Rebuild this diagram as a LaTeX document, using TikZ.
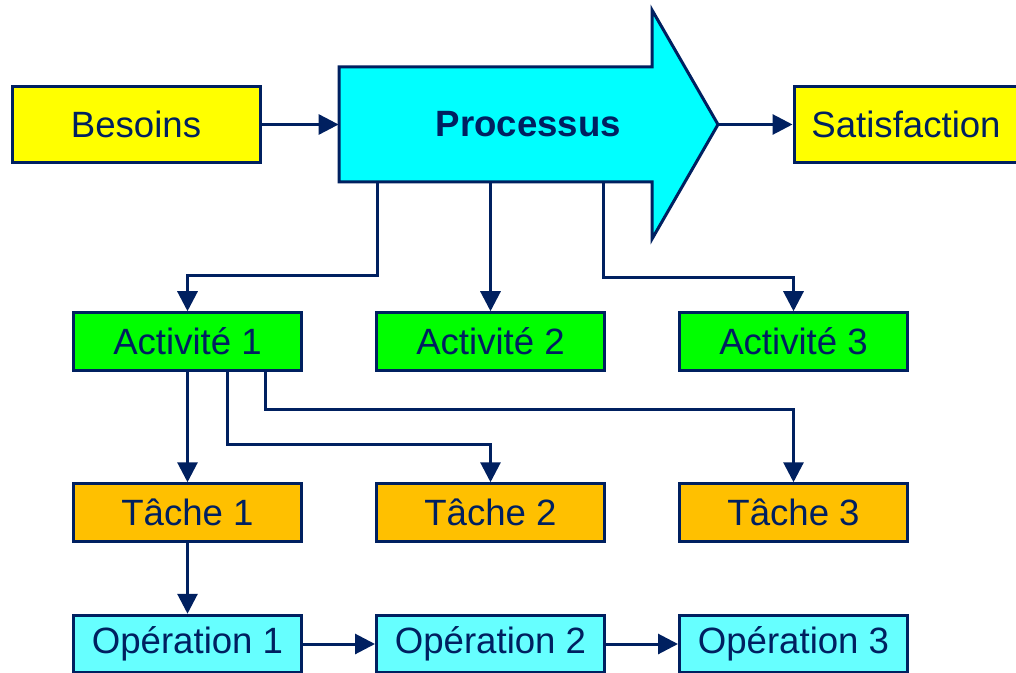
\documentclass[tikz,border=0pt]{standalone}
\usepackage{fontspec}
\setmainfont{Liberation Sans}
\usepackage{tikz}
\usetikzlibrary{arrows.meta,calc}
\definecolor{navy}{RGB}{0,32,96}
\definecolor{procfill}{RGB}{0,255,255}
\definecolor{opfill}{RGB}{102,255,255}
\definecolor{actfill}{RGB}{0,255,0}
\definecolor{taskfill}{RGB}{255,192,0}
\definecolor{needfill}{RGB}{255,255,0}

\begin{document}
\begin{tikzpicture}[x=0.5pt,y=-0.5pt,>={Triangle[length=10pt,width=10pt]},
  box/.style={draw=navy,line width=1.5pt,text=navy,inner sep=0pt,
    minimum width=114pt,minimum height=28.75pt,font=\fontsize{18.3}{22}\selectfont},
  link/.style={->,draw=navy,line width=1.5pt}]
\useasboundingbox (0,0) rectangle (1016,673);
\fill[white] (0,0) rectangle (1016,673);
% big process arrow
\draw[navy,line width=1.5pt,fill=procfill,line join=miter] (339,67) -- (652,67) -- (652,10) -- (718,124.5) -- (652,239) -- (652,182) -- (339,182) -- cycle;
\node[text=navy,minimum width=189.5pt,minimum height=57.5pt,inner sep=0pt,font=\fontsize{18.3}{22}\selectfont\bfseries] (proc) at (528.5,124.5) {Processus};
\node[box,fill=needfill,minimum width=124pt,minimum height=38pt] (besoins) at (136,124.5) {Besoins};
\node[box,fill=needfill,minimum width=112pt,minimum height=38pt] (satis) at (906,124.5) {Satisfaction};
\node[box,fill=actfill] (act1) at (187.5,341.5) {Activité 1};
\node[box,fill=actfill] (act2) at (490.5,341.5) {Activité 2};
\node[box,fill=actfill] (act3) at (793.5,341.5) {Activité 3};
\node[box,fill=taskfill] (tache1) at (187.5,512.5) {Tâche 1};
\node[box,fill=taskfill] (tache2) at (490.5,512.5) {Tâche 2};
\node[box,fill=taskfill] (tache3) at (793.5,512.5) {Tâche 3};
\node[box,fill=opfill] (op1) at (187.5,644) {Opération 1};
\node[box,fill=opfill] (op2) at (490.5,644) {Opération 2};
\node[box,fill=opfill] (op3) at (793.5,644) {Opération 3};
% links
\draw[link] (besoins.east) -- (besoins.east -| proc.west);
\draw[link] (proc.east) -- (proc.east -| satis.west);
\draw[link] ($(proc.south west)+(39,0)$) -- ++(0,93) -| (act1.north);
\draw[link] (act2.north |- proc.south) -- (act2.north);
\draw[link] ($(proc.south west)+(265,0)$) -- ++(0,95) -| (act3.north);
\draw[link] (act1) -- (tache1);
\draw[link] ($(act1.south)+(40,0)$) -- ++(0,73) -| (tache2.north);
\draw[link] ($(act1.south)+(78,0)$) -- ++(0,38) -| (tache3.north);
\draw[link] (tache1) -- (op1);
\draw[link] (op1) -- (op2);
\draw[link] (op2) -- (op3);
\end{tikzpicture}
\end{document}
